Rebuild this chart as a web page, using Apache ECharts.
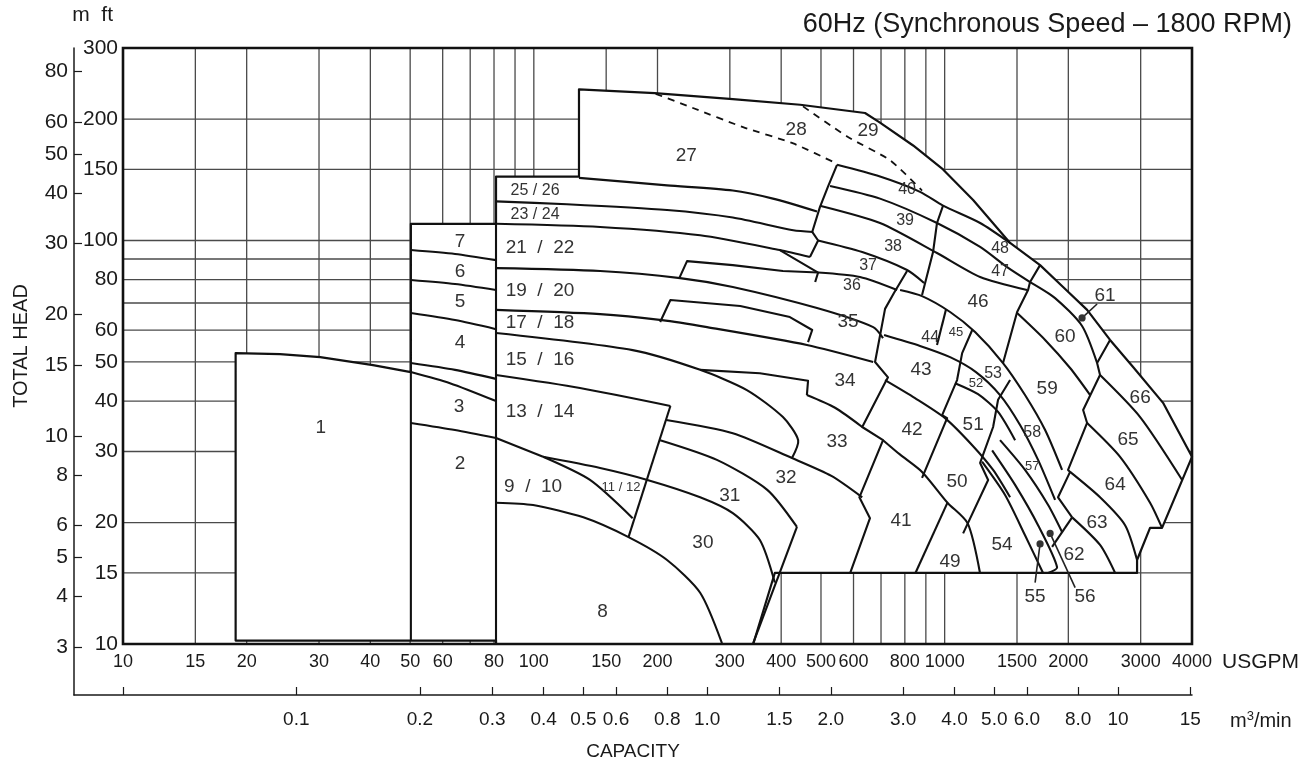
<!DOCTYPE html>
<html><head><meta charset="utf-8">
<script src="https://cdn.jsdelivr.net/npm/echarts@6/dist/echarts.min.js"></script>
<style>html,body{margin:0;padding:0;background:#fff}#c{width:1305px;height:765px}</style>
</head><body><div id="c"></div><script>
const FONT = '"Liberation Sans",Arial,Helvetica,sans-serif';

// ---- axis ticks / labels ----
const gpmLabels = [10,15,20,30,40,50,60,80,100,150,200,300,400,500,600,800,1000,1500,2000,3000,4000];
const gpmGrid = [15,20,30,40,50,60,70,80,90,100,150,200,300,400,500,600,700,800,900,1000,1500,2000,3000];
const ftLabels = [10,15,20,30,40,50,60,80,100,150,200,300];
const ftGrid = [15,20,30,40,50,60,70,80,90,100,150,200];
const mLabels = [3,4,5,6,8,10,15,20,30,40,50,60,80];
const m3Values = [0.1,0.2,0.3,0.4,0.5,0.6,0.8,1,1.5,2,3,4,5,6,8,10,15];
const m3Texts = ['0.1','0.2','0.3','0.4','0.5','0.6','0.8','1.0','1.5','2.0','3.0','4.0','5.0','6.0','8.0','10','15'];
const GPM_PER_M3MIN = 264.172, FT_PER_M = 3.28084;
const capMinGpm = 7.6;   // left end of the lower capacity scale line
const headMinM = 2.279;  // lower end of the metre scale line

// ---- selection envelope (USGPM, ft) ----
const envelope = [[18.8,10.2],[18.8,52.6],[24.1,52.3],[30.2,51.4],[40.6,49.1],[50.2,47.2],[50.2,110],[80.9,110],[80.9,144],[128.8,144],[128.8,237],[197,232],[305,224],[445,217],[640,207],[696,196],[838,172],[991,150],[1173,126],[1443,98.6],[1707,86.9],[1942,76.7],[2222,67.3],[2527,56.7],[2875,48.6],[3401,39.6],[4000,29.1],[3382,19.4],[3162,19.4],[2940,16.15],[2940,15],[386,15],[342,10],[80.9,10],[80.9,10.2]];

// ---- region boundaries (USGPM, ft) ----
const v411 = [[50.2,47.2],[50.2,10.2]];
const v496 = [[80.9,110],[80.9,10]];
const c76 = [[50.2,94.7],[64.3,92.6],[80.9,89.4]];
const c65 = [[50.2,79.8],[64.3,78.0],[80.9,75.4]];
const c54 = [[50.2,66.1],[64.3,63.5],[80.9,60.3]];
const c43 = [[50.2,49.7],[64.3,47.8],[80.9,45.4]];
const c1x = [[50.2,47.2],[62.5,44.3],[80.9,40.0]];
const c32 = [[50.2,35.3],[64.3,33.9],[80.9,32.4]];
const b27 = [[128.8,143],[211,137],[305,133],[382,127],[489,118]];
const b25 = [[80.9,125],[120.4,123],[211,119],[305,114],[428,106],[478,105]];
const t23 = [[476,105],[492,100],[470,91.0]];
const b23 = [[80.9,110],[145,108],[254,103],[397,94.7],[470,91.0]];
const d21 = [[397,94.7],[492,83.3],[484,78.9]];
const inset1 = [[226,80.7],[236,88.9],[305,86.9],[404,84.0],[492,83.3]];
const b21 = [[80.9,85.4],[145,84.0],[227,80.7],[305,76.7],[489,68.0],[670,61.0],[708,57.3]];
const b19 = [[80.9,67.3],[145,65.7],[205,63.5],[264,61.0],[462,55.1],[670,50.0]];
const inset2 = [[203,62.8],[215,71.2],[318,68.8],[420,64.6],[476,60.0],[465,56.0]];
const b17 = [[80.9,59.0],[174,53.5],[254,47.8],[330,42.6],[404,36.5],[440,32.0],[425,28.9]];
const inset3 = [[254,47.8],[355,46.9],[465,44.9],[462,41.4]];
const b34 = [[462,41.4],[541,38.5],[630,34.5]];
const b15 = [[80.9,46.4],[129.5,43.1],[215,38.9]];
const r13 = [[215,38.9],[170,18.4]];
const b32a = [[210,35.9],[305,33.3],[425,28.9],[530,26.1],[630,23.1]];
const b31a = [[203,32.0],[279,28.6],[370,24.1],[437,19.5]];
const b13_9 = [[80.9,32.4],[105.3,29.1]];
const c9_11 = [[105.3,29.1],[137,25.5],[174,20.5]];
const b11 = [[105.3,29.1],[145,27.3],[189,25.5],[254,23.1],[305,21.1],[355,18.1],[386,14.2]];
const b9_8 = [[80.9,22.4],[99.6,22.1],[132,20.6],[170,18.4],[211,16.15],[254,13.4],[287,10.05]];
const r30 = [[437,19.5],[342,10.05]];
const L40 = [[547,154],[520,136],[497,121],[476,105]];
const U1 = [[547,154],[696,144],[871,132],[991,122],[1220,110.5],[1443,98.6]];
const U2 = [[526,136.5],[696,127],[958,110.5],[1220,96.4],[1419,85.9],[1614,78.9]];
const U3 = [[497,122],[696,110.5],[958,93.1],[1220,81.2],[1587,75.4]];
const a37 = [[492,100],[630,93.6],[810,84.5],[891,78.5]];
const a36 = [[492,83.3],[622,81.2],[766,75.4]];
const R48 = [[991,122],[958,110.5],[937,93.6],[881,73.3]];
const R60 = [[1707,86.9],[1614,78.9],[1596,75.4],[1501,66.5],[1387,49.7]];
const Z1 = [[810,84.0],[752,74.0],[716,67.7],[677,50.0],[728,45.8],[716,44.4],[630,34.5],[708,32.0],[620,23.1],[658,20.5],[589,15]];
const P1 = [[779,75.4],[881,72.8],[1031,66.5],[1186,59.3],[1387,49.7],[1569,41.4],[1756,33.9],[1931,27.0]];
const P2 = [[712,58.3],[871,54.8],[1031,51.4],[1192,47.2],[1364,41.4],[1526,34.9],[1688,28.6],[1857,22.75]];
const P25 = [[1060,44.3],[1206,41.6],[1349,37.6],[1484,32.0]];
const P3 = [[716,45.1],[847,40.7],[1002,36.3],[1167,31.1],[1312,27.0],[1443,23.1]];
const A41 = [[708,32.0],[778,29.5],[881,26.7],[1016,22.4],[1138,19.9],[1219,15]];
const RA = [[1167,60.0],[1103,52.6],[1072,45.1],[986,36.9],[1014,36.3],[881,25.8]];
const S45 = [[1008,67.6],[958,55.1]];
const RB = [[1443,45.1],[1349,40.3],[1312,34.5],[1220,28.1],[1276,25.5],[1109,18.8]];
const R49 = [[1016,22.4],[849,15]];
const L55a = [[1233,28.3],[1403,23.4],[1569,18.6],[1736,15]];
const L55b = [[1305,30.2],[1484,24.8],[1688,19.7],[1878,15.5],[1786,15]];
const L56b = [[1364,32.0],[1569,27.0],[1786,22.1],[1931,18.95]];
const A61 = [[1614,78.9],[1857,72.0],[2160,61.4],[2350,49.7]];
const A60 = [[1501,66.1],[1756,56.7],[2020,48.3],[2260,41.4]];
const A66 = [[2389,46.4],[2991,36.5],[3785,25.5]];
const A65 = [[2222,35.3],[2673,29.1],[3162,22.4],[3382,19.4]];
const A64 = [[2020,26.7],[2389,23.1],[2749,19.7],[2940,16.15]];
const A63 = [[2043,20.6],[2389,17.6],[2600,15]];
const Z2 = [[2527,56.7],[2350,49.7],[2389,46.4],[2173,38.0],[2222,35.3],[1997,27.0],[2020,26.7],[1888,23.1],[2043,20.6]];
const R62 = [[2043,20.6],[1826,17.4]];
const dash1 = [[198,231],[244,213],[323,191],[428,174],[547,155]];
const dash2 = [[452,215],[579,181],[737,158],[881,133]];

const curved = [c76,c65,c54,c43,c1x,c32,b27,b25,b23,b21,b19,b17,b34,b15,b32a,b31a,b13_9,c9_11,b11,b9_8,U1,U2,U3,a37,a36,
  P1,P2,P25,P3,A41,L55a,L55b,L56b,A61,A60,A66,A65,A64,A63];
const straight = [v411,v496,t23,d21,inset1,inset2,inset3,r13,r30,L40,R48,R60,Z1,RA,S45,RB,R49,Z2,R62];
const dashed = [dash1,dash2];

// ---- region numbers (USGPM, ft, text) ----
const labelsL = [[30.3,34.3,'1'],[66.1,27.9,'2'],[65.8,38.7,'3'],[66.1,55.7,'4'],[66.1,70.4,'5'],[66.1,83.6,'6'],[66.1,99.2,'7'],[147,12.0,'8'],
 [99.6,24.5,'9  /  10'],[103.5,37.6,'13  /  14'],[103.5,50.6,'15  /  16'],[103.5,62.5,'17  /  18'],[103.5,75.0,'19  /  20'],[103.5,95.8,'21  /  22'],
 [235,162,'27'],[435,188,'28'],[651,187,'29'],[258,17.8,'30'],[300,23.3,'31'],[411,25.8,'32'],[547,31.8,'33'],[572,44.9,'34'],[582,62.8,'35'],
 [783,20.2,'41'],[833,33.9,'42'],[876,47.8,'43'],[1206,70.4,'46'],[1031,16.0,'49'],[1072,25.3,'50'],[1173,34.9,'51'],[1379,17.6,'54'],
 [1660,13.1,'55'],[2197,13.1,'56'],[1776,42.9,'59'],[1964,57.6,'60'],[2458,72.8,'61'],[2066,16.6,'62'],[2350,19.95,'63'],[2600,24.8,'64'],[2796,32.0,'65'],[2991,40.7,'66']];
const labelsM = [[100.7,116,'23 / 24'],[100.7,133,'25 / 26'],[595,77.1,'36'],[651,86.9,'37'],[749,96.4,'38'],[801,112,'39'],[810,134,'40'],[922,57.6,'44'],[1364,83.6,'47'],[1364,95.3,'48'],[1312,46.9,'53'],[1633,33.5,'58']];
const labelsS = [[163,24.5,'11 / 12'],[1066,59.3,'45'],[1192,44.3,'52'],[1633,27.6,'57']];

// ---- leader lines: dot then label end ----
const leaders = [[[2160,64.3],[2350,69.6]],[[1707,17.7],[1660,14.2]],[[1806,18.8],[2078,13.8]]];

// ---------------------------------------------------------------
const lineTable = [];
curved.forEach(p=>lineTable.push({pts:p, smooth:0.25}));
straight.forEach(p=>lineTable.push({pts:p, smooth:0}));
dashed.forEach(p=>lineTable.push({pts:p, smooth:0.2, dash:true}));
const labelTable = [];
labelsL.forEach(l=>labelTable.push({p:[l[0],l[1]], t:l[2], size:19}));
labelsM.forEach(l=>labelTable.push({p:[l[0],l[1]], t:l[2], size:16}));
labelsS.forEach(l=>labelTable.push({p:[l[0],l[1]], t:l[2], size:13}));
const gridData = gpmGrid.map(v=>[v,10,0]).concat(ftGrid.map(v=>[10,v,1]));

const axisText = {fontFamily:FONT, fontSize:21, color:'#1a1a1a'};
const xText = {fontFamily:FONT, fontSize:18, color:'#1a1a1a'};
const nearest = (arr, v) => { let b=0; arr.forEach((a,i)=>{ if (Math.abs(Math.log(a/v)) < Math.abs(Math.log(arr[b]/v))) b=i; }); return b; };

const chart = echarts.init(document.getElementById('c'));
chart.setOption({
  animation:false,
  backgroundColor:'#fff',
  title:{text:'60Hz (Synchronous Speed – 1800 RPM)', right:8, top:6,
    textStyle:{fontFamily:FONT, fontSize:27, fontWeight:'normal', color:'#1a1a1a'}},
  grid:[{left:123, right:113, top:48, bottom:121, containLabel:false, outerBoundsMode:'none'},
        {left:74, right:113, top:48, bottom:70, containLabel:false, outerBoundsMode:'none'}],
  xAxis:[
    {type:'log', logBase:10, min:10, max:4000, gridIndex:0, position:'bottom',
     axisLine:{show:false}, axisTick:{show:false}, splitLine:{show:false},
     axisLabel:{customValues:gpmLabels, margin:9, ...xText, formatter:v=>String(Math.round(v))},
     name:'USGPM', nameLocation:'end', nameGap:30, nameMoveOverlap:false,
     nameTextStyle:{...axisText, verticalAlign:'top', padding:[8,0,0,0]}},
    {type:'log', logBase:10, min:capMinGpm/GPM_PER_M3MIN, max:4000/GPM_PER_M3MIN, gridIndex:1, position:'bottom',
     axisLine:{show:true, lineStyle:{color:'#1a1a1a', width:1.5}},
     axisTick:{show:true, inside:true, length:8, customValues:[10/GPM_PER_M3MIN].concat(m3Values), lineStyle:{color:'#1a1a1a', width:1.2}},
     splitLine:{show:false},
     axisLabel:{customValues:m3Values, margin:15, ...axisText, fontSize:19, formatter:v=>m3Texts[nearest(m3Values,v)]},
     name:'CAPACITY', nameLocation:'middle', nameGap:47, nameMoveOverlap:false, nameTextStyle:{...axisText, fontSize:19}},
    {type:'log', logBase:10, min:capMinGpm/GPM_PER_M3MIN, max:4000/GPM_PER_M3MIN, gridIndex:1, position:'bottom',
     axisLine:{show:false}, axisTick:{show:false}, axisLabel:{show:false}, splitLine:{show:false},
     name:'m{s|3}/min', nameLocation:'end', nameGap:38, nameMoveOverlap:false,
     nameTextStyle:{...axisText, fontSize:20, verticalAlign:'top', padding:[15,0,0,0], rich:{s:{fontFamily:FONT, fontSize:13, verticalAlign:'top', padding:[0,0,10,0], color:'#1a1a1a'}}}}
  ],
  yAxis:[
    {type:'log', logBase:10, min:10, max:300, gridIndex:0, position:'left',
     axisLine:{show:false}, axisTick:{show:false}, splitLine:{show:false},
     axisLabel:{customValues:ftLabels, margin:5, ...axisText, formatter:v=>String(Math.round(v))},
     name:'TOTAL HEAD', nameLocation:'middle', nameGap:92, nameRotate:90, nameMoveOverlap:false, nameTextStyle:{...axisText, fontSize:20}},
    {type:'log', logBase:10, min:headMinM, max:300/FT_PER_M, gridIndex:1, position:'left',
     axisLine:{show:true, lineStyle:{color:'#1a1a1a', width:1.5}},
     axisTick:{show:true, inside:true, length:8, customValues:mLabels, lineStyle:{color:'#1a1a1a', width:1.2}},
     splitLine:{show:false},
     axisLabel:{customValues:mLabels, margin:6, ...axisText, formatter:v=>String(Math.round(v))},
     name:'m', nameLocation:'end', nameGap:22, nameMoveOverlap:false, nameTextStyle:{...axisText, align:'center', padding:[0,0,0,14]}},
    {type:'log', logBase:10, min:10, max:300, gridIndex:0, position:'left',
     axisLine:{show:false}, axisTick:{show:false}, axisLabel:{show:false}, splitLine:{show:false},
     name:'ft', nameLocation:'end', nameGap:22, nameMoveOverlap:false, nameTextStyle:{...axisText, align:'right', padding:[0,10,0,0]}}
  ],
  series:[
    {type:'custom', name:'grid', xAxisIndex:0, yAxisIndex:0, z:1, silent:true, data:gridData,
     renderItem:(params, api)=>{
       const k = api.value(2);
       let a, b;
       if (k===0) { a = api.coord([api.value(0),10]); b = api.coord([api.value(0),300]); }
       else { a = api.coord([10,api.value(1)]); b = api.coord([4000,api.value(1)]); }
       return {type:'line', shape:{x1:a[0],y1:a[1],x2:b[0],y2:b[1]}, style:{stroke:'#4a4a4a', lineWidth:1.3}};
     }},
    {type:'custom', name:'envelope', xAxisIndex:0, yAxisIndex:0, z:2, silent:true, data:[[envelope[0][0],envelope[0][1],0]],
     renderItem:(params, api)=>({type:'polygon', shape:{points:envelope.map(p=>api.coord(p))},
       style:{fill:'#fff', stroke:'#111', lineWidth:2.2, lineJoin:'round'}})},
    {type:'custom', name:'boundaries', xAxisIndex:0, yAxisIndex:0, z:3, silent:true,
     data:lineTable.map((d,i)=>[d.pts[0][0], d.pts[0][1], i]),
     renderItem:(params, api)=>{
       const d = lineTable[api.value(2)];
       return {type:'polyline', shape:{points:d.pts.map(p=>api.coord(p)), smooth:d.smooth},
         style:{stroke:'#111', lineWidth:d.dash?1.8:2.1, fill:'none', lineDash:d.dash?[7,6]:null, lineJoin:'round'}};
     }},
    {type:'custom', name:'leaders', xAxisIndex:0, yAxisIndex:0, z:4, silent:true,
     data:leaders.map((d,i)=>[d[0][0], d[0][1], i]),
     renderItem:(params, api)=>{
       const d = leaders[api.value(2)];
       const a = api.coord(d[0]), b = api.coord(d[1]);
       return {type:'group', children:[
         {type:'line', shape:{x1:a[0],y1:a[1],x2:b[0],y2:b[1]}, style:{stroke:'#222', lineWidth:1.6}},
         {type:'circle', shape:{cx:a[0], cy:a[1], r:3.6}, style:{fill:'#333'}}]};
     }},
    {type:'custom', name:'labels', xAxisIndex:0, yAxisIndex:0, z:5, silent:true,
     data:labelTable.map((d,i)=>[d.p[0], d.p[1], i]),
     renderItem:(params, api)=>{
       const d = labelTable[api.value(2)];
       const c = api.coord(d.p);
       return {type:'text', x:c[0], y:c[1], style:{text:d.t, fill:'#333', fontSize:d.size, fontFamily:FONT, align:'center', verticalAlign:'middle'}};
     }},
    {type:'custom', name:'frame', xAxisIndex:0, yAxisIndex:0, z:6, silent:true, data:[[10,10,0]],
     renderItem:(params, api)=>{
       const a = api.coord([10,300]), b = api.coord([4000,10]);
       return {type:'rect', shape:{x:a[0], y:a[1], width:b[0]-a[0], height:b[1]-a[1]}, style:{fill:'none', stroke:'#111', lineWidth:2.6}};
     }}
  ]
});
</script></body></html>
